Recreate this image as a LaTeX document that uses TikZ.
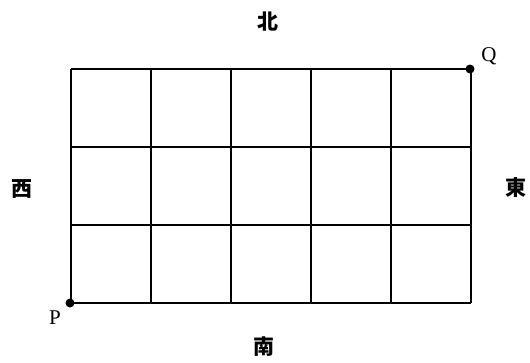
\documentclass[tikz,border=0pt]{standalone}
\usepackage{fontspec}
\setmainfont{Liberation Serif}
\newfontfamily\cjk{Noto Sans CJK JP}
\begin{document}
\begin{tikzpicture}[x=1pt,y=-1pt,
  gridline/.style={line width=1.3pt,black},
  dir/.style={font=\cjk\bfseries\fontsize{21}{21}\selectfont,inner sep=0pt},
  ptlabel/.style={font=\fontsize{21}{21}\selectfont,inner sep=0pt},
  dot/.style={circle,fill=black,inner sep=0pt,minimum size=9pt}]
\useasboundingbox (0,0) rectangle (530,362);
\foreach \x in {71,151,231,311,391,471} \draw[gridline] (\x,69) -- (\x,303);
\foreach \y in {69,147,225,303} \draw[gridline] (71,\y) -- (471,\y);
\node[dot] (p) at (70,303) {};
\node[dot] (q) at (470,69) {};
\node[ptlabel] (pl) at (55,318) {P};
\node[ptlabel] (ql) at (489,56) {Q};
\node[dir] (n) at (268,22) {北};
\node[dir] (s) at (264,347) {南};
\node[dir] (w) at (22,189) {西};
\node[dir] (e) at (516,188) {東};
\end{tikzpicture}
\end{document}
